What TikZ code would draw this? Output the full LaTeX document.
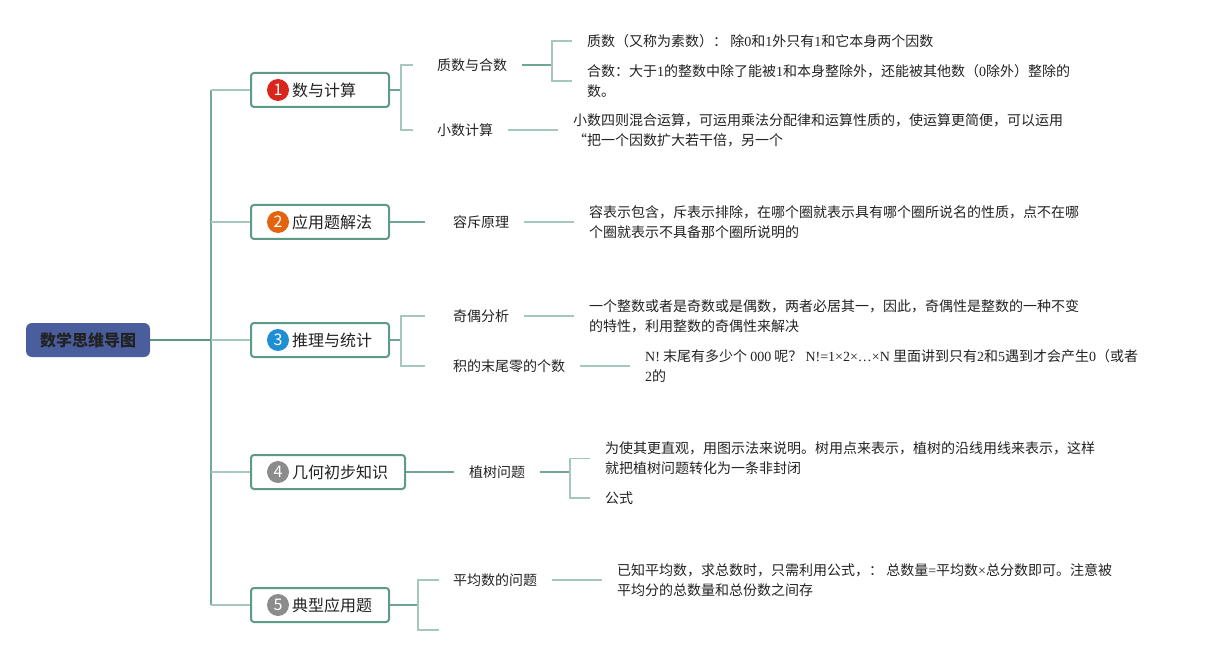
\documentclass[tikz,border=0pt]{standalone}
\usepackage{fontspec}
\setmainfont{Noto Sans CJK SC}
\newfontfamily\lserif{Liberation Serif}
\newcommand\sr[1]{{\lserif #1}}
\usetikzlibrary{calc}
\definecolor{rootblue}{HTML}{4A5E9E}
\definecolor{boxgreen}{HTML}{5E9A87}
\definecolor{trunkc}{HTML}{74A898}
\definecolor{rootc}{HTML}{5E9585}
\definecolor{subdark}{HTML}{6FA595}
\definecolor{sublight}{HTML}{A6C8BC}
\definecolor{cred}{HTML}{D9261C}
\definecolor{corange}{HTML}{E3640F}
\definecolor{cblue}{HTML}{1F8FD4}
\definecolor{cgray}{HTML}{8C8C8C}
\definecolor{txt}{HTML}{222222}
\tikzset{
  rootbox/.style={fill=rootblue,rounded corners=6pt,minimum width=124pt,minimum height=34pt,inner sep=0pt,
    font=\fontsize{16}{18}\selectfont\bfseries,text=txt},
  mainbox/.style={draw=boxgreen,line width=2pt,fill=white,rounded corners=3pt,minimum height=34pt,inner sep=0pt,anchor=west},
  numcirc/.style={circle,minimum size=22pt,inner sep=0pt,text=white,font=\fontsize{16}{16}\selectfont},
  maintext/.style={anchor=west,inner sep=0pt,font=\fontsize{16}{18}\selectfont,text=txt},
  sublabel/.style={anchor=west,inner sep=0pt,font=\fontsize{14}{17}\selectfont,text=txt},
  leaf/.style={anchor=west,inner sep=0pt,align=left,font=\fontsize{14}{20}\selectfont,text=txt},
  rootline/.style={draw=rootc,line width=1.8pt},
  trunkline/.style={draw=trunkc,line width=1.6pt},
  mline/.style={draw=sublight,line width=1.6pt},
  sline/.style={draw=subdark,line width=1.6pt},
  lline/.style={draw=sublight,line width=1.5pt},
}
\begin{document}
\begin{tikzpicture}[x=1pt,y=-1pt]
\useasboundingbox (0,0) rectangle (1205,655);
% root
\node[rootbox] (r) at (88,340) {数学思维导图};
% main boxes
\node[mainbox,minimum width=138pt] (m1) at (250,90) {};
\node[mainbox,minimum width=138pt] (m2) at (250,222) {};
\node[mainbox,minimum width=138pt] (m3) at (250,340) {};
\node[mainbox,minimum width=154pt] (m4) at (250,472) {};
\node[mainbox,minimum width=138pt] (m5) at (250,605) {};
\node[numcirc,fill=cred] (c1) at (278,90) {1};
\node[numcirc,fill=corange] (c2) at (278,222) {2};
\node[numcirc,fill=cblue] (c3) at (278,340) {3};
\node[numcirc,fill=cgray] (c4) at (278,472) {4};
\node[numcirc,fill=cgray] (c5) at (278,605) {5};
\node[maintext] (t1) at (292,90) {数与计算};
\node[maintext] (t2) at (292,222) {应用题解法};
\node[maintext] (t3) at (292,340) {推理与统计};
\node[maintext] (t4) at (292,472) {几何初步知识};
\node[maintext] (t5) at (292,605) {典型应用题};
% trunk
\coordinate (tr1) at (211,90);
\coordinate (tr2) at (211,222);
\coordinate (tr3) at (211,340);
\coordinate (tr4) at (211,472);
\coordinate (tr5) at (211,605);
\draw[trunkline] (tr1) -- (tr5);
\draw[rootline] (r.east) -- (tr3);
\foreach \i in {1,...,5}{\draw[mline] (tr\i) -- (m\i.west);}
% sub labels
\node[sublabel] (s11) at (437,65) {质数与合数};
\node[sublabel] (s12) at (437,130) {小数计算};
\node[sublabel] (s21) at (453,222) {容斥原理};
\node[sublabel] (s31) at (453,316) {奇偶分析};
\node[sublabel] (s32) at (453,366) {积的末尾零的个数};
\node[sublabel] (s41) at (469,472) {植树问题};
\node[sublabel] (s51) at (453,580) {平均数的问题};
\coordinate (e52) at (439,630);
% leaves
\node[leaf] (l111) at (587,41) {质数（又称为素数）： 除\sr{0}和\sr{1}外只有\sr{1}和它本身两个因数};
\node[leaf] (l112) at (587,81) {合数：大于\sr{1}的整数中除了能被\sr{1}和本身整除外，还能被其他数（\sr{0}除外）整除的\\数。};
\node[leaf] (l12) at (573,130) {小数四则混合运算，可运用乘法分配律和运算性质的，使运算更简便，可以运用\\“把一个因数扩大若干倍，另一个};
\node[leaf] (l2) at (589,222) {容表示包含，斥表示排除，在哪个圈就表示具有哪个圈所说名的性质，点不在哪\\个圈就表示不具备那个圈所说明的};
\node[leaf] (l31) at (589,316) {一个整数或者是奇数或是偶数，两者必居其一，因此，奇偶性是整数的一种不变\\的特性，利用整数的奇偶性来解决};
\node[leaf] (l32) at (645,366) {\sr{N!} 末尾有多少个 \sr{000} 呢？ \sr{N!=1×2×…×N} 里面讲到只有\sr{2}和\sr{5}遇到才会产生\sr{0}（或者\\\sr{2}的};
\node[leaf] (l41) at (605,458.5) {为使其更直观，用图示法来说明。树用点来表示，植树的沿线用线来表示，这样\\就把植树问题转化为一条非封闭};
\node[leaf] (l42) at (605,498) {公式};
\node[leaf] (l51) at (617,580) {已知平均数，求总数时，只需利用公式，： 总数量\sr{=}平均数\sr{×}总分数即可。注意被\\平均分的总数量和总份数之间存};
% branch 1
\coordinate (j1) at (401,90);
\draw[sline] (m1.east) -- (j1);
\draw[lline] ([xshift=-24pt]s11.west) -| (j1) |- ([xshift=-24pt]s12.west);
\coordinate (j11) at (552,65);
\draw[sline] ([xshift=15pt]s11.east) -- (j11);
\draw[lline] ([xshift=-15pt]l111.west) -| (j11) |- ([xshift=-15pt]l112.west);
\draw[lline] ([xshift=15pt]s12.east) -- ([xshift=-15pt]l12.west);
% branch 2
\draw[sline] (m2.east) -- ([xshift=-28pt]s21.west);
\draw[lline] ([xshift=15pt]s21.east) -- ([xshift=-15pt]l2.west);
% branch 3
\coordinate (j3) at (401,340);
\draw[sline] (m3.east) -- (j3);
\draw[lline] ([xshift=-28pt]s31.west) -| (j3) |- ([xshift=-28pt]s32.west);
\draw[lline] ([xshift=15pt]s31.east) -- ([xshift=-15pt]l31.west);
\draw[lline] ([xshift=15pt]s32.east) -- ([xshift=-15pt]l32.west);
% branch 4
\draw[sline] (m4.east) -- ([xshift=-15pt]s41.west);
\coordinate (j4) at (570,472);
\draw[sline] ([xshift=15pt]s41.east) -- (j4);
\draw[lline] ([xshift=-15pt]l41.west) -| (j4) |- ([xshift=-15pt]l42.west);
% branch 5
\coordinate (j5) at (418,605);
\draw[sline] (m5.east) -- (j5);
\draw[lline] ([xshift=-14pt]s51.west) -| (j5) |- (e52);
\draw[lline] ([xshift=15pt]s51.east) -- ([xshift=-15pt]l51.west);
\end{tikzpicture}
\end{document}
